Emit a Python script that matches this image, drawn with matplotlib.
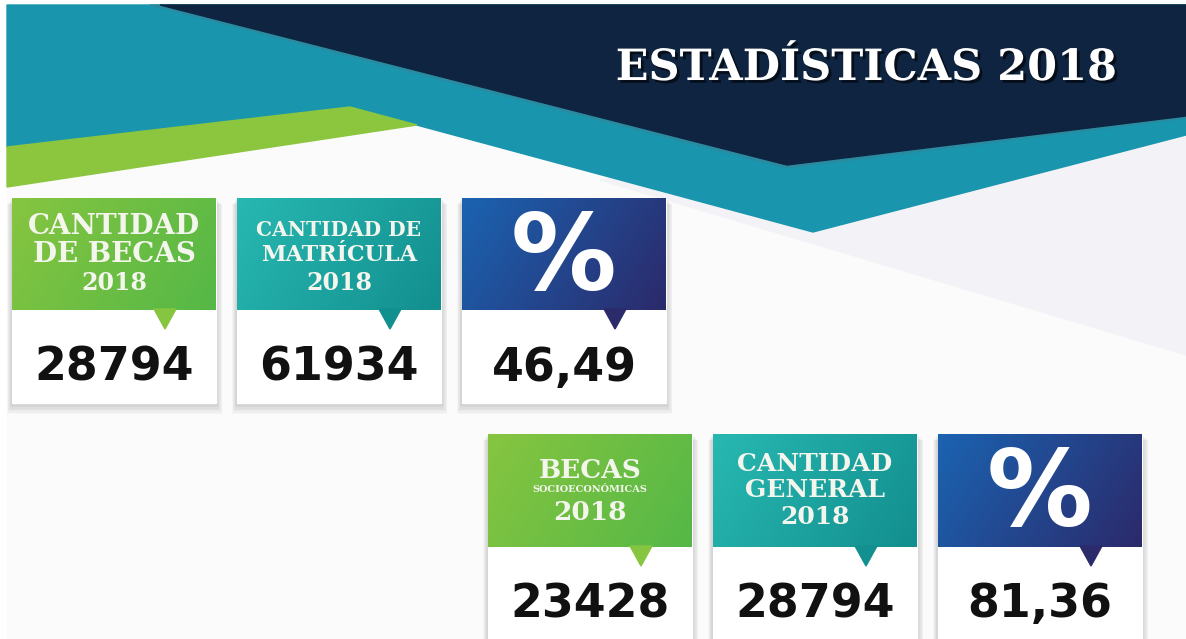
import numpy as np
import matplotlib.pyplot as plt
from matplotlib.patches import Polygon, Rectangle
from matplotlib.colors import to_rgb
import matplotlib.patheffects as pe

# Datos de la infografía
titulo = 'ESTADÍSTICAS 2018'
etiquetas_fila1 = [['CANTIDAD', 'DE BECAS', '2018'],
                   ['CANTIDAD DE', 'MATRÍCULA', '2018'],
                   ['%']]
etiquetas_fila2 = [['BECAS', 'SOCIOECONÓMICAS', '2018'],
                   ['CANTIDAD', 'GENERAL', '2018'],
                   ['%']]
becas_2018 = 28794
matricula_2018 = 61934
porcentaje_1 = 46.49
becas_socio_2018 = 23428
cantidad_general_2018 = 28794
porcentaje_2 = 81.36

valores_fila1 = [becas_2018, matricula_2018, porcentaje_1]
valores_fila2 = [becas_socio_2018, cantidad_general_2018, porcentaje_2]

# Colores de las cabeceras (inicio, fin del degradado)
colores = [('#86c540', '#55b847'), ('#28b8b1', '#128f8f'), ('#1b63b1', '#2b2a6b')]

W, H = 1186, 639
fig = plt.figure(figsize=(W / 100, H / 100), dpi=100)
ax = fig.add_axes([0, 0, 1, 1])
ax.set_xlim(0, W)
ax.set_ylim(H, 0)
ax.axis('off')
fig.patch.set_facecolor('white')

# Fondo
ax.add_patch(Rectangle((7, 5), W - 7, H - 5, color='#fbfbfc', zorder=0))
ax.add_patch(Polygon([(600, 180), (W, 355), (W, 110)], color='#f3f2f6', zorder=1))

# Bandas superiores
ax.add_patch(Polygon([(7, 5), (W, 5), (W, 135), (813, 232), (350, 107), (7, 147)],
                     color='#1995ad', zorder=2))
ax.add_patch(Polygon([(150, 5), (W, 5), (W, 118), (787, 168)], color='#2a8aa0', zorder=2.5))
ax.add_patch(Polygon([(160, 5), (W, 5), (W, 116), (787, 165)], color='#0e2440', zorder=3))
ax.add_patch(Polygon([(7, 147), (350, 107), (417, 125), (7, 187)], color='#8cc63f', zorder=3))

ax.text(866, 68, titulo, color='white', fontsize=31, fontweight='bold', family='DejaVu Serif',
        ha='center', va='center', zorder=5,
        path_effects=[pe.withSimplePatchShadow(offset=(2, -2), shadow_rgbFace='black', alpha=0.6)])


def degradado(x0, y0, w, h, c1, c2, z):
    a, b = np.array(to_rgb(c1)), np.array(to_rgb(c2))
    gx, gy = np.meshgrid(np.linspace(0, 1, 60), np.linspace(0, 1, 30))
    t = np.clip(0.75 * gx + 0.25 * gy, 0, 1)[..., None]
    img = a * (1 - t) + b * t
    ax.imshow(img, extent=(x0, x0 + w, y0 + h, y0), aspect='auto', zorder=z, interpolation='bilinear')


# estilo de las líneas de cada etiqueta: (desplazamiento vertical, tamaño)
estilos = {
    ('CANTIDAD', 'DE BECAS', '2018'): [(28, 20), (57, 20), (85, 17)],
    ('CANTIDAD DE', 'MATRÍCULA', '2018'): [(32, 14.5), (57, 16), (85, 17)],
    ('BECAS', 'SOCIOECONÓMICAS', '2018'): [(37, 19), (56, 7), (78, 19)],
    ('CANTIDAD', 'GENERAL', '2018'): [(30, 18), (56, 18), (83, 18)],
}


def formato(v):
    if isinstance(v, float):
        return f'{v:.2f}'.replace('.', ',')
    return str(v)


def fila(x0, top, alto_cab, alto, etiquetas, valores):
    ancho, paso = 204, 225
    for i, (lineas, v) in enumerate(zip(etiquetas, valores)):
        x = x0 + i * paso
        c1, c2 = colores[i]
        # sombra
        for k in range(1, 9):
            ax.add_patch(Rectangle((x - k * 0.6, top + k * 0.8), ancho + k * 1.4, alto + k * 0.6,
                                   color='#000000', alpha=0.025, lw=0, zorder=6))
        ax.add_patch(Rectangle((x, top), ancho, alto, color='white', zorder=7))
        degradado(x, top, ancho, alto_cab, c1, c2, 8)
        px = x + 153
        ax.add_patch(Polygon([(px - 11, top + alto_cab - 1), (px + 11, top + alto_cab - 1),
                              (px, top + alto_cab + 19)],
                             color=c1 if i == 0 else c2, zorder=8.5))
        cx = x + ancho / 2
        if lineas == ['%']:
            ax.text(cx, top + 92, '%', color='white', fontsize=76, fontweight='bold',
                    ha='center', va='baseline', zorder=9)
        else:
            for texto, (dy, fs) in zip(lineas, estilos[tuple(lineas)]):
                ax.text(cx, top + dy, texto, color='#f4f6ee', fontsize=fs, fontweight='bold',
                        family='DejaVu Serif', ha='center', va='center', zorder=9)
        ax.text(cx, top + alto_cab + 58, formato(v), color='#111111', fontsize=33,
                fontweight='bold', ha='center', va='center', zorder=9)


fila(12, 198, 112, 205, etiquetas_fila1, valores_fila1)
fila(488, 434, 113, 215, etiquetas_fila2, valores_fila2)

fig.savefig('out.png', dpi=100)
